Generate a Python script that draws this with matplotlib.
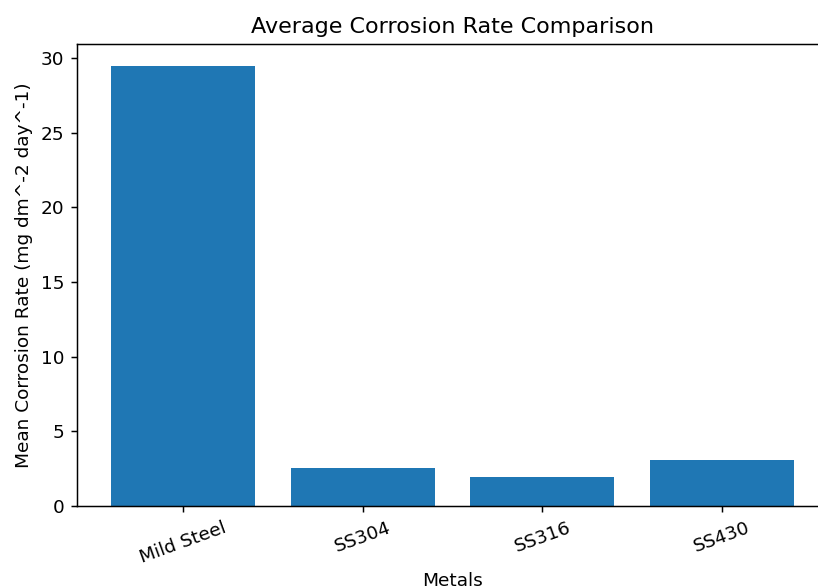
import matplotlib
matplotlib.use("Agg")
import matplotlib.pyplot as plt

metals = ["Mild Steel", "SS304", "SS316", "SS430"]
mean_rates = [29.46, 2.55, 1.97, 3.07]

DPI = 400 / 3
W, H = 818, 587

fig = plt.figure(figsize=(W / DPI, H / DPI), dpi=DPI)
# the axes runs slightly past the right edge of the canvas
ax = fig.add_axes([77 / W, 1 - 506 / H, 751 / W, 462 / H])
ax.bar(metals, mean_rates, color="#1f77b4")
ax.spines["right"].set_visible(False)
ax.set_title("Average Corrosion Rate Comparison")
ax.set_xlabel("Metals", labelpad=3)
ax.set_ylabel("Mean Corrosion Rate (mg dm^-2 day^-1)")
plt.setp(ax.get_xticklabels(), rotation=20)
fig.savefig("out.png", dpi=DPI)
